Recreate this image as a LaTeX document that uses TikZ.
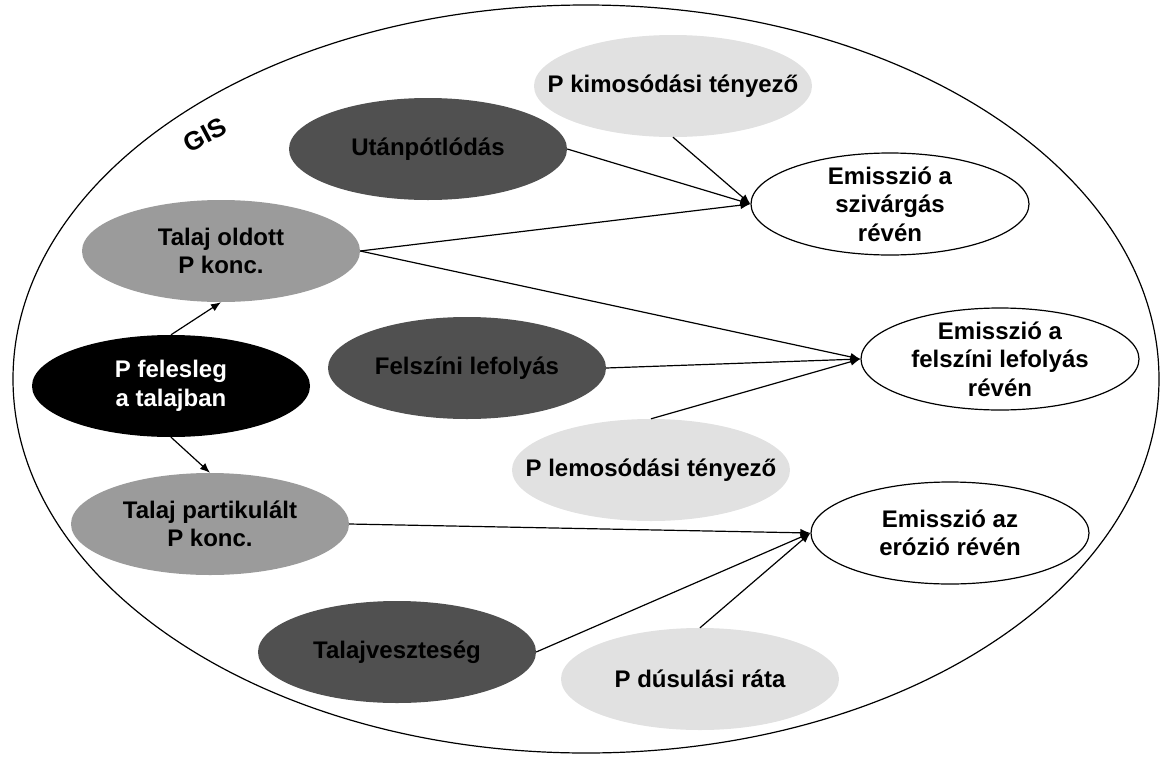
\documentclass[tikz,border=0pt]{standalone}
\usepackage{fontspec}
\setmainfont{Liberation Sans}
\usetikzlibrary{shapes.geometric, arrows.meta}
\definecolor{surplus}{RGB}{0,0,0}
\definecolor{driver}{RGB}{80,80,80}
\definecolor{conc}{RGB}{155,155,155}
\definecolor{coeff}{RGB}{225,225,225}

\begin{document}
\begin{tikzpicture}[x=1pt, y=-1pt, font=\bfseries\fontsize{24}{28.5}\selectfont]
  \tikzstyle{blob} = [ellipse, text=black, align=center,
      inner xsep=-40pt, inner ysep=-20pt, minimum width=278pt, minimum height=102pt]
  \tikzstyle{emission} = [blob, draw, line width=1.2pt, fill=white]
  \tikzstyle{line} = [draw, line width=1.2pt, -{Latex[length=10pt, width=8pt]}]
  \useasboundingbox (0,0) rectangle (1163,758);
      % GIS frame
      \draw [line width=1.2pt] (586,379) ellipse [x radius=573pt, y radius=374pt];
      \node [rotate=28, font=\bfseries\fontsize{26}{30}\selectfont] (gis) at (205,135) {GIS};
      % Place nodes
      \node [blob, fill=coeff] (kimos) at (673,86) {P kimosódási tényező};
      \node [blob, fill=driver] (utan) at (428,149) {Utánpótlódás};
      \node [emission] (sziv) at (890,204) {Emisszió a\\szivárgás\\révén};
      \node [blob, fill=conc] (oldott) at (221,251) {Talaj oldott\\P konc.};
      \node [blob, fill=surplus, text=white] (felesleg) at (171,386) {P felesleg\\a talajban};
      \node [blob, fill=driver] (lefoly) at (467,368) {Felszíni lefolyás};
      \node [emission] (femis) at (1000,359) {Emisszió a\\felszíni lefolyás\\révén};
      \node [blob, fill=coeff] (lemos) at (651,470) {P lemosódási tényező};
      \node [blob, fill=conc] (partik) at (210,524) {Talaj partikulált\\P konc.};
      \node [emission] (erozio) at (950,533) {Emisszió az\\erózió révén};
      \node [blob, fill=driver] (talajv) at (397,652) {Talajveszteség};
      \node [blob, fill=coeff] (dus) at (700,679) {P dúsulási ráta};

  %paths
      \path [line] (felesleg.north) -- (oldott.south);
      \path [line] (felesleg.south) -- (partik.north);
      \path [line] (utan.east) -- (sziv.west);
      \path [line] (kimos.south) -- (sziv.west);
      \path [line] (oldott.east) -- (sziv.west);
      \path [line] (oldott.east) -- (femis.west);
      \path [line] (lefoly.east) -- (femis.west);
      \path [line] (lemos.north) -- (femis.west);
      \path [line] (partik.east) -- (erozio.west);
      \path [line] (talajv.east) -- (erozio.west);
      \path [line] (dus.north) -- (erozio.west);

\end{tikzpicture}
\end{document}
